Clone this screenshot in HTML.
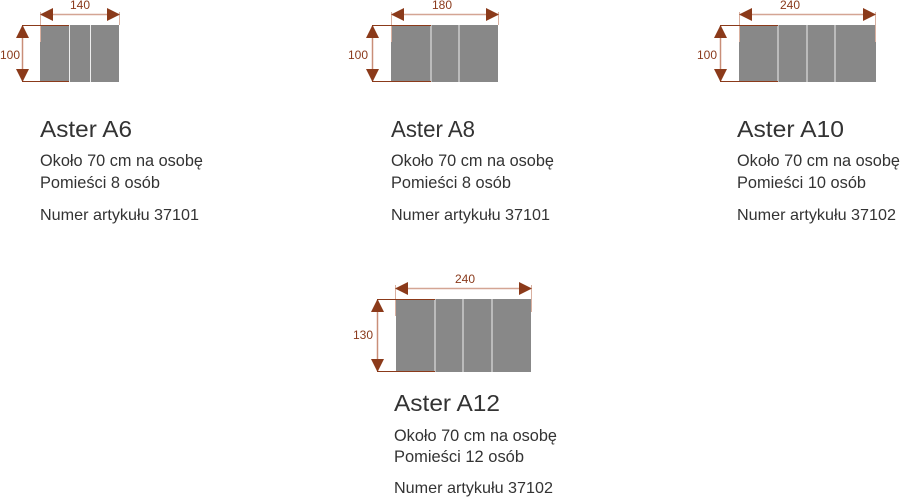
<!DOCTYPE html>
<html><head><meta charset="utf-8"><style>
html,body{margin:0;padding:0;background:#fff;width:900px;height:499px;overflow:hidden}
svg{display:block}
text{font-family:"Liberation Sans",sans-serif;fill:#333}
.d{font-size:12px;fill:#8a3a1c}
</style></head><body>
<svg width="900" height="499" viewBox="0 0 900 499" xmlns="http://www.w3.org/2000/svg">
<defs>
<marker id="a" markerWidth="13" markerHeight="13" refX="12" refY="6.5" orient="auto-start-reverse" markerUnits="userSpaceOnUse"><path d="M0,0 L13,6.5 L0,13z" fill="#8b3a1a"/></marker>
</defs>
<g>
<rect x="40" y="25" width="79" height="57" fill="#888"/>
<line x1="69.5" y1="25" x2="69.5" y2="82" stroke="#eee" stroke-width="1"/>
<line x1="90.5" y1="25" x2="90.5" y2="82" stroke="#eee" stroke-width="1"/>
<line x1="40.5" y1="12" x2="40.5" y2="42" stroke="#d9b0a0"/>
<line x1="119.5" y1="12" x2="119.5" y2="25" stroke="#d9b0a0"/>
<line x1="41" y1="14.5" x2="119" y2="14.5" stroke="#d4a594" stroke-width="1.5" marker-start="url(#a)" marker-end="url(#a)"/>
<line x1="22" y1="25.5" x2="69" y2="25.5" stroke="#8b3a1a"/>
<line x1="22" y1="81.5" x2="69" y2="81.5" stroke="#8b3a1a"/>
<line x1="22.5" y1="26" x2="22.5" y2="81" stroke="#c98e78" stroke-width="1.5" marker-start="url(#a)" marker-end="url(#a)"/>
<text class="d" x="70" y="9">140</text>
<text class="d" x="0" y="59">100</text>
</g>
<g>
<rect x="391" y="25" width="107" height="57" fill="#888"/>
<line x1="431" y1="25" x2="431" y2="82" stroke="#eee"/>
<line x1="459" y1="25" x2="459" y2="82" stroke="#eee"/>
<line x1="391.5" y1="12" x2="391.5" y2="42" stroke="#d9b0a0"/>
<line x1="498.5" y1="12" x2="498.5" y2="25" stroke="#d9b0a0"/>
<line x1="392" y1="14.5" x2="498" y2="14.5" stroke="#d4a594" stroke-width="1.5" marker-start="url(#a)" marker-end="url(#a)"/>
<line x1="372" y1="25.5" x2="431" y2="25.5" stroke="#8b3a1a"/>
<line x1="372" y1="81.5" x2="431" y2="81.5" stroke="#8b3a1a"/>
<line x1="372.5" y1="26" x2="372.5" y2="81" stroke="#c98e78" stroke-width="1.5" marker-start="url(#a)" marker-end="url(#a)"/>
<text class="d" x="432" y="9">180</text>
<text class="d" x="348" y="59">100</text>
</g>
<g>
<rect x="739" y="25" width="137" height="57" fill="#888"/>
<line x1="778" y1="25" x2="778" y2="82" stroke="#eee"/>
<line x1="807" y1="25" x2="807" y2="82" stroke="#eee"/>
<line x1="835" y1="25" x2="835" y2="82" stroke="#eee"/>
<line x1="739.5" y1="12" x2="739.5" y2="42" stroke="#d9b0a0"/>
<line x1="875.5" y1="12" x2="875.5" y2="42" stroke="#d9b0a0"/>
<line x1="740" y1="14.5" x2="875" y2="14.5" stroke="#d4a594" stroke-width="1.5" marker-start="url(#a)" marker-end="url(#a)"/>
<line x1="720" y1="25.5" x2="778" y2="25.5" stroke="#8b3a1a"/>
<line x1="720" y1="81.5" x2="778" y2="81.5" stroke="#8b3a1a"/>
<line x1="720.5" y1="26" x2="720.5" y2="81" stroke="#c98e78" stroke-width="1.5" marker-start="url(#a)" marker-end="url(#a)"/>
<text class="d" x="780" y="9">240</text>
<text class="d" x="697" y="59">100</text>
</g>
<g>
<rect x="396" y="299" width="135" height="73" fill="#888"/>
<line x1="435" y1="299" x2="435" y2="372" stroke="#eee"/>
<line x1="463" y1="299" x2="463" y2="372" stroke="#eee"/>
<line x1="492" y1="299" x2="492" y2="372" stroke="#eee"/>
<line x1="395.5" y1="285" x2="395.5" y2="316" stroke="#d9b0a0"/>
<line x1="531.5" y1="285" x2="531.5" y2="312" stroke="#d9b0a0"/>
<line x1="396" y1="288.5" x2="531" y2="288.5" stroke="#d4a594" stroke-width="1.5" marker-start="url(#a)" marker-end="url(#a)"/>
<line x1="377" y1="299.5" x2="435" y2="299.5" stroke="#8b3a1a"/>
<line x1="377" y1="371.5" x2="435" y2="371.5" stroke="#8b3a1a"/>
<line x1="377.5" y1="300" x2="377.5" y2="371" stroke="#c98e78" stroke-width="1.5" marker-start="url(#a)" marker-end="url(#a)"/>
<text class="d" x="455" y="283">240</text>
<text class="d" x="353" y="339">130</text>
</g>

<text x="40" y="137" font-size="23" textLength="92" lengthAdjust="spacingAndGlyphs">Aster A6</text>
<text x="40" y="166" font-size="17" textLength="163" lengthAdjust="spacingAndGlyphs">Około 70 cm na osobę</text>
<text x="40" y="188" font-size="17" textLength="120" lengthAdjust="spacingAndGlyphs">Pomieści 8 osób</text>
<text x="40" y="220" font-size="16" textLength="159" lengthAdjust="spacingAndGlyphs">Numer artykułu 37101</text>

<text x="391" y="137" font-size="23" textLength="84" lengthAdjust="spacingAndGlyphs">Aster A8</text>
<text x="391" y="166" font-size="17" textLength="163" lengthAdjust="spacingAndGlyphs">Około 70 cm na osobę</text>
<text x="391" y="188" font-size="17" textLength="120" lengthAdjust="spacingAndGlyphs">Pomieści 8 osób</text>
<text x="391" y="220" font-size="16" textLength="159" lengthAdjust="spacingAndGlyphs">Numer artykułu 37101</text>

<text x="737" y="137" font-size="23" textLength="107" lengthAdjust="spacingAndGlyphs">Aster A10</text>
<text x="737" y="166" font-size="17" textLength="163" lengthAdjust="spacingAndGlyphs">Około 70 cm na osobę</text>
<text x="737" y="188" font-size="17" textLength="129" lengthAdjust="spacingAndGlyphs">Pomieści 10 osób</text>
<text x="737" y="220" font-size="16" textLength="159" lengthAdjust="spacingAndGlyphs">Numer artykułu 37102</text>

<text x="394" y="411" font-size="23" textLength="106" lengthAdjust="spacingAndGlyphs">Aster A12</text>
<text x="394" y="441" font-size="17" textLength="163" lengthAdjust="spacingAndGlyphs">Około 70 cm na osobę</text>
<text x="394" y="462" font-size="17" textLength="130" lengthAdjust="spacingAndGlyphs">Pomieści 12 osób</text>
<text x="394" y="493" font-size="16" textLength="159" lengthAdjust="spacingAndGlyphs">Numer artykułu 37102</text>
</svg>
</body></html>
